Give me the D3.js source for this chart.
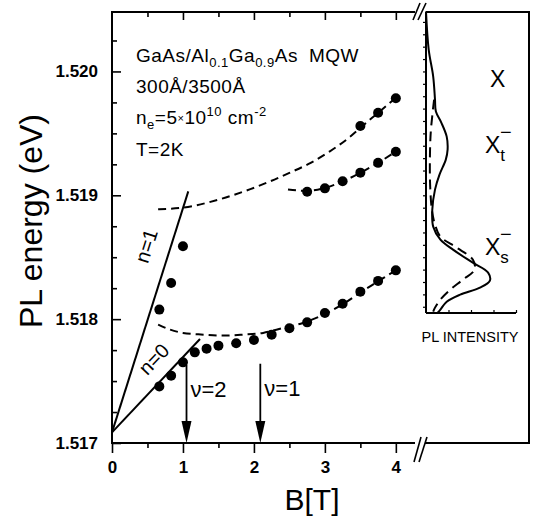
<!DOCTYPE html>
<html><head><meta charset="utf-8">
<script src="https://cdn.jsdelivr.net/npm/d3@7"></script>
<style>
html,body{margin:0;padding:0;background:#fff;}
svg{display:block;font-family:"Liberation Sans",Arial,Helvetica,sans-serif;}
</style></head>
<body>
<svg id="c" width="536" height="525"></svg>
<script>
// ---------- data ----------
const B_LOWER = [0.667,0.833,1.0,1.167,1.333,1.5,1.75,2.0,2.25,2.5,2.75,3.0,3.25,3.5,3.75,4.0];
const E_LOWER = [1.517457,1.517544,1.517651,1.517732,1.517762,1.517786,1.517805,1.517832,1.517875,1.517926,1.517974,1.518050,1.518125,1.518222,1.518309,1.518394];
const B_N1 = [0.667,0.833,1.0];
const E_N1 = [1.518077,1.518292,1.518588];
const B_XT = [2.75,3.0,3.25,3.5,3.75,4.0];
const E_XT = [1.519028,1.519056,1.519113,1.519183,1.519262,1.519351];
const B_X = [3.5,3.75,4.0];
const E_X = [1.519560,1.519666,1.519784];

// dashed fit curves
const FIT_LOW_B = [0.65,0.82,1.0,1.29,1.57,1.85,2.13,2.41,2.69,2.98,3.25,3.5,3.75,4.0];
const FIT_LOW_E = [1.517956,1.517915,1.517889,1.517875,1.517867,1.517875,1.517889,1.517929,1.517969,1.518036,1.518120,1.518215,1.518305,1.518395];
const FIT_XT_B = [2.48,2.75,3.0,3.25,3.5,3.75,4.0];
const FIT_XT_E = [1.519046,1.519036,1.519060,1.519112,1.519182,1.519262,1.519353];
const FIT_X_B = [0.65,1.0,1.5,1.95,2.23,2.5,2.8,3.07,3.35,3.5,3.75,4.0];
const FIT_X_E = [1.518888,1.518900,1.518965,1.519050,1.519113,1.519181,1.519262,1.519355,1.519470,1.519545,1.519666,1.519787];

// Landau fan lines (n=0, n=1)
const N0_B = [0, 1.24];
const N0_E = [1.517086, 1.517840];
const N1_B = [0, 1.075];
const N1_E = [1.517086, 1.519032];

// filling-factor arrows
const ARROW_B = [1.05, 2.09];
const ARROW_TOP_E = [1.51763, 1.51764];
const ARROW_LABELS = ["ν=2", "ν=1"];

// PL spectra (right panel): energy, intensity (arb.)
const SPEC_SOLID_E = [1.520484,1.520177,1.519959,1.519773,1.519676,1.519587,1.519474,1.519369,1.519288,1.519167,1.519046,1.518885,1.518747,1.518642,1.518561,1.518456,1.518376,1.518311,1.518254,1.518198,1.518141,1.518077,1.518052];
const SPEC_SOLID_I = [0.0,0.03,0.08,0.10,0.11,0.17,0.23,0.24,0.22,0.15,0.10,0.07,0.08,0.16,0.30,0.52,0.69,0.71,0.60,0.38,0.23,0.16,0.13];
const SPEC_DASH_E = [1.519773,1.519531,1.519369,1.519103,1.518885,1.518763,1.518666,1.518578,1.518481,1.518400,1.518319,1.518238,1.518158,1.518093,1.518061];
const SPEC_DASH_I = [0.09,0.055,0.045,0.045,0.065,0.10,0.16,0.34,0.52,0.54,0.41,0.27,0.16,0.10,0.08];

// tick values / labels
const X_MAJOR = [0,1,2,3,4];
const X_MINOR = [0.5,1.5,2.5,3.5];
const Y_MAJOR = [1.517,1.518,1.519,1.520];
const Y_MINOR = [1.51725,1.5175,1.51775,1.51825,1.5185,1.51875,1.51925,1.5195,1.51975,1.52025];
const SPEC_TICKS = d3.range(1.5181, 1.52045, 0.0001);

// ---------- layout ----------
const svg = d3.select("#c");
const L = 112, T = 12, B = 443, XR = 415, RX0 = 426, RX1 = 516, RB = 313, OUTR = 529;

const x = d3.scaleLinear().domain([0, 4.27]).range([L, XR]);
const y = d3.scaleLinear().domain([1.517, 1.52048]).range([B, T]);
const xi = d3.scaleLinear().domain([0, 1]).range([RX0, RX1]);

const BLACK = "#000";
const font = "'Liberation Sans',Arial,Helvetica,sans-serif";

function styleAxis(g){ g.select(".domain").remove(); g.selectAll("line").attr("stroke",BLACK).attr("stroke-width",1.6); }

svg.append("g").attr("transform",`translate(${L},0)`)
  .call(d3.axisLeft(y).tickValues(Y_MAJOR).tickSize(-9).tickPadding(14).tickFormat(d3.format(".3f")))
  .call(styleAxis)
  .call(g=>g.selectAll("text").attr("font-size",17).attr("font-weight","bold").attr("font-family",font).attr("fill",BLACK));
svg.append("g").attr("transform",`translate(${L},0)`)
  .call(d3.axisLeft(y).tickValues(Y_MINOR).tickSize(-5).tickFormat(""))
  .call(styleAxis);

svg.append("g").attr("transform",`translate(0,${B})`)
  .call(d3.axisBottom(x).tickValues(X_MAJOR).tickSize(10).tickPadding(8).tickFormat(d3.format("d")))
  .call(styleAxis)
  .call(g=>g.selectAll("text").attr("font-size",17).attr("font-weight","bold").attr("font-family",font).attr("fill",BLACK));
svg.append("g").attr("transform",`translate(0,${B})`)
  .call(d3.axisBottom(x).tickValues(X_MINOR).tickSize(5).tickFormat(""))
  .call(styleAxis);

svg.append("g").attr("transform",`translate(0,${T})`)
  .call(d3.axisTop(x).tickValues(X_MAJOR.slice(1)).tickSize(-8).tickFormat(""))
  .call(styleAxis);
svg.append("g").attr("transform",`translate(0,${T})`)
  .call(d3.axisTop(x).tickValues(X_MINOR).tickSize(-5).tickFormat(""))
  .call(styleAxis);

// right panel axis ticks
svg.append("g").attr("transform",`translate(${RX0},0)`)
  .call(d3.axisLeft(y).tickValues(SPEC_TICKS).tickSize(3).tickFormat(""))
  .call(styleAxis).call(g=>g.selectAll("line").attr("stroke-width",1.2));
svg.append("g").attr("transform",`translate(0,${RB})`)
  .call(d3.axisTop(xi).tickValues([0.25,0.5,0.75,1]).tickSize(3).tickFormat(""))
  .call(styleAxis).call(g=>g.selectAll("line").attr("stroke-width",1.2));

// frame
const frame = svg.append("g").attr("stroke",BLACK).attr("stroke-width",2).attr("fill","none");
frame.append("line").attr("x1",L).attr("y1",T-1).attr("x2",L).attr("y2",B+1);
frame.append("line").attr("x1",L).attr("y1",T).attr("x2",XR).attr("y2",T);
frame.append("line").attr("x1",RX0).attr("y1",T).attr("x2",OUTR).attr("y2",T);
frame.append("line").attr("x1",L).attr("y1",B).attr("x2",XR).attr("y2",B);
frame.append("line").attr("x1",425).attr("y1",B).attr("x2",OUTR).attr("y2",B);
frame.append("line").attr("x1",OUTR).attr("y1",T-1).attr("x2",OUTR).attr("y2",B+1);
frame.append("line").attr("x1",RX0).attr("y1",T).attr("x2",RX0).attr("y2",RB);
frame.append("line").attr("x1",RX0).attr("y1",RB).attr("x2",RX1).attr("y2",RB);
// axis-break marks
const brk = svg.append("g").attr("stroke",BLACK).attr("stroke-width",1.6);
[[413,20,420,3],[418,20,426,3],[414,462,421,437],[419,462,427,437]].forEach(d=>{
  brk.append("line").attr("x1",d[0]).attr("y1",d[1]).attr("x2",d[2]).attr("y2",d[3]);
});

// ---------- marks ----------
const line = (bs, es) => d3.line().x((d,i)=>x(bs[i])).y((d,i)=>y(es[i])).curve(d3.curveMonotoneX)(bs);

svg.append("path").attr("d", d3.line().x((d,i)=>x(N0_B[i])).y((d,i)=>y(N0_E[i]))(N0_B))
  .attr("stroke",BLACK).attr("stroke-width",2).attr("fill","none");
svg.append("path").attr("d", d3.line().x((d,i)=>x(N1_B[i])).y((d,i)=>y(N1_E[i]))(N1_B))
  .attr("stroke",BLACK).attr("stroke-width",2).attr("fill","none");

[[FIT_LOW_B,FIT_LOW_E],[FIT_XT_B,FIT_XT_E],[FIT_X_B,FIT_X_E]].forEach(([bs,es])=>{
  svg.append("path").attr("d", line(bs,es)).attr("stroke",BLACK).attr("stroke-width",2)
    .attr("stroke-dasharray","8,5").attr("fill","none");
});

const dots = svg.append("g").attr("fill",BLACK);
[[B_LOWER,E_LOWER],[B_N1,E_N1],[B_XT,E_XT],[B_X,E_X]].forEach(([bs,es])=>{
  dots.selectAll(null).data(bs).enter().append("circle")
    .attr("cx",d=>x(d)).attr("cy",(d,i)=>y(es[i])).attr("r",5);
});

ARROW_B.forEach((b,i)=>{
  const xx = x(b), y0 = y(ARROW_TOP_E[i]), y1 = y(1.517);
  svg.append("line").attr("x1",xx).attr("x2",xx).attr("y1",y0).attr("y2",y1-18)
    .attr("stroke",BLACK).attr("stroke-width",1.8);
  svg.append("path").attr("d",`M${xx-5},${y1-22}L${xx+5},${y1-22}L${xx},${y1}Z`).attr("fill",BLACK);
  svg.append("text").attr("x",xx+4).attr("y",y0+32).attr("font-size",22).attr("font-family",font)
    .attr("fill",BLACK).text(ARROW_LABELS[i]);
});

svg.append("text").attr("transform","translate(159,364) rotate(-46.7)").attr("text-anchor","middle")
  .attr("font-size",20).attr("font-family",font).text("n=0");
svg.append("text").attr("transform","translate(153,248) rotate(-72.4)").attr("text-anchor","middle")
  .attr("font-size",20).attr("font-family",font).text("n=1");

const specLine = (es, is) => d3.line().x((d,i)=>xi(is[i])).y((d,i)=>y(es[i])).curve(d3.curveCatmullRom.alpha(0.5))(es);
svg.append("path").attr("d",specLine(SPEC_SOLID_E,SPEC_SOLID_I)).attr("stroke",BLACK).attr("stroke-width",2).attr("fill","none");
svg.append("path").attr("d",specLine(SPEC_DASH_E,SPEC_DASH_I)).attr("stroke",BLACK).attr("stroke-width",2)
  .attr("stroke-dasharray","10,6").attr("fill","none");

svg.append("text").attr("x",490).attr("y",87).attr("font-size",23).attr("font-family",font).text("X");
function peakLabel(xp, yb, sub){
  const t = svg.append("text").attr("x",xp).attr("y",yb).attr("font-size",23).attr("font-family",font);
  t.append("tspan").text("X");
  t.append("tspan").attr("font-size",17).attr("dy",8).text(sub);
  svg.append("text").attr("x",xp+15).attr("y",yb-14).attr("font-size",20).attr("font-family",font).text("−");
}
peakLabel(485,153,"t");
peakLabel(485,255,"s");
svg.append("text").attr("x",470).attr("y",342).attr("text-anchor","middle").attr("font-size",14.5)
  .attr("font-family",font).text("PL INTENSITY");

const ann = svg.append("g").attr("font-family",font).attr("font-size",19).attr("letter-spacing",0.5).attr("fill",BLACK);
const t1 = ann.append("text").attr("x",136).attr("y",62);
t1.append("tspan").text("GaAs/Al");
t1.append("tspan").attr("font-size",13).attr("dy",5).text("0.1");
t1.append("tspan").attr("dy",-5).text("Ga");
t1.append("tspan").attr("font-size",13).attr("dy",5).text("0.9");
t1.append("tspan").attr("dy",-5).text("As");
ann.append("text").attr("x",309).attr("y",62).text("MQW");
ann.append("text").attr("x",136).attr("y",93).text("300Å/3500Å");
const t3 = ann.append("text").attr("x",136).attr("y",124);
t3.append("tspan").text("n");
t3.append("tspan").attr("font-size",13).attr("dy",5).text("e");
t3.append("tspan").attr("dy",-5).text("=5");
t3.append("tspan").attr("font-size",11).attr("dy",-2).text("×");
t3.append("tspan").attr("dy",2).text("10");
t3.append("tspan").attr("font-size",13).attr("dy",-8).text("10");
t3.append("tspan").attr("dy",8).text(" cm");
t3.append("tspan").attr("font-size",13).attr("dy",-8).text("-2");
ann.append("text").attr("x",136).attr("y",156).text("T=2K");

svg.append("text").attr("transform","translate(42,221) rotate(-90)").attr("text-anchor","middle")
  .attr("font-size",32).attr("font-family",font).text("PL energy (eV)");
svg.append("text").attr("x",312).attr("y",510).attr("text-anchor","middle")
  .attr("font-size",30).attr("font-family",font).text("B[T]");
</script>
</body></html>
